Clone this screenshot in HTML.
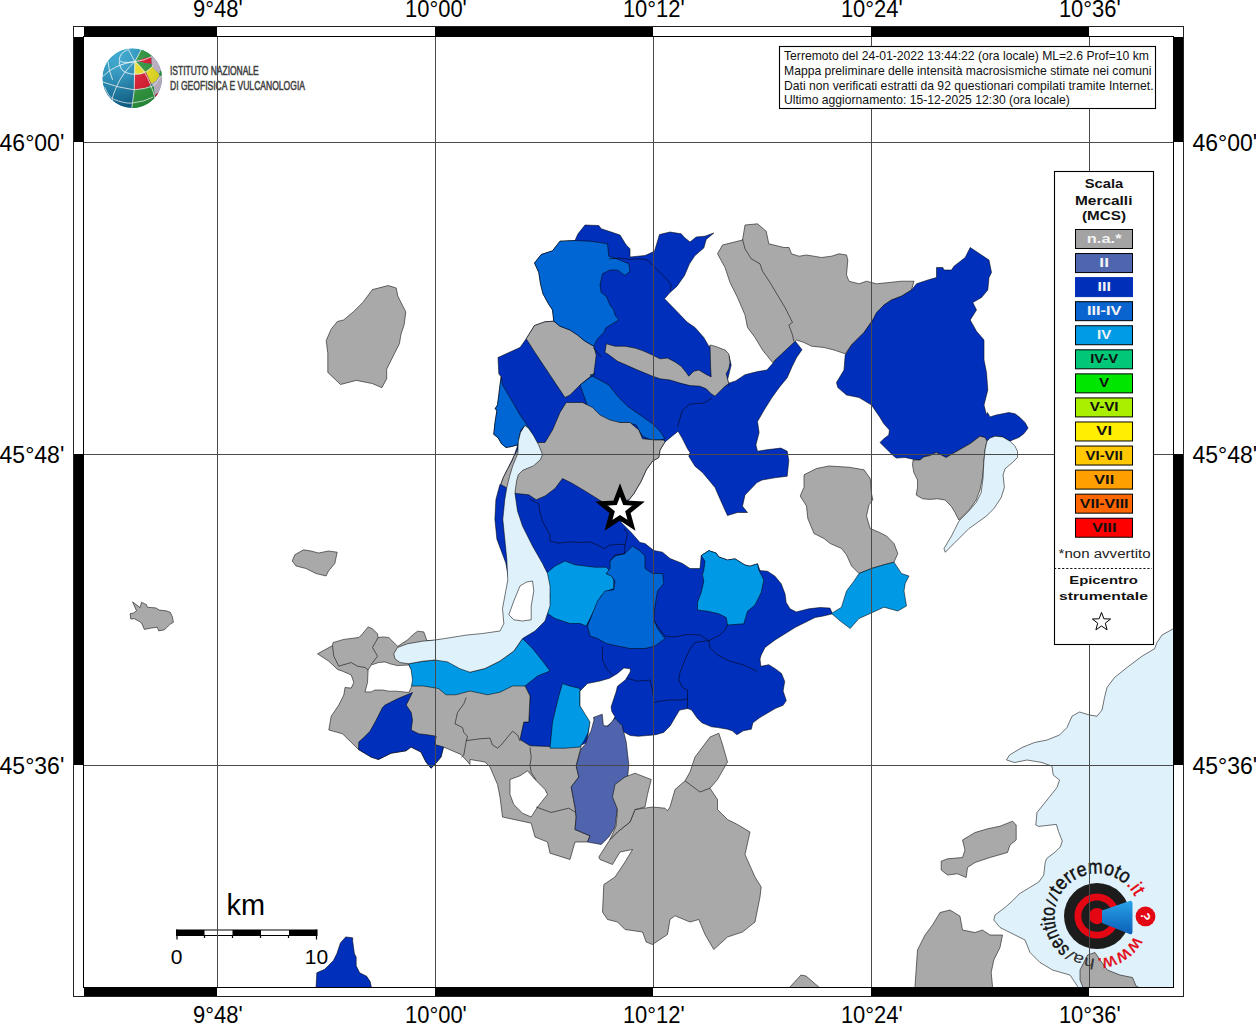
<!DOCTYPE html><html><head><meta charset="utf-8"><style>html,body{margin:0;padding:0;background:#fff;overflow:hidden}svg{display:block}</style></head><body>
<svg width="1256" height="1024" viewBox="0 0 1256 1024">
<rect width="1256" height="1024" fill="#fff"/>
<g clip-path="url(#mapclip)"><clipPath id="mapclip"><rect x="84" y="36" width="1089" height="951"/></clipPath>
<g stroke="#000" stroke-opacity="0.6" stroke-width="0.9" stroke-linejoin="round">
<polygon fill="#0030BB" points="493.8,433.8 495.0,422.5 497.0,410.0 495.0,408.8 497.5,405.0 498.8,395.0 500.0,385.0 501.2,377.0 498.8,373.8 498.0,357.5 510.0,352.0 520.0,347.5 526.2,338.8 534.5,325.5 545.0,321.8 553.8,321.2 552.5,310.0 548.0,303.0 543.0,293.8 540.5,283.8 538.8,272.5 534.5,263.0 541.2,254.5 552.5,250.8 560.0,241.2 575.0,240.5 578.0,233.8 585.0,225.0 598.8,225.5 601.2,228.8 611.2,232.0 620.0,235.0 626.2,245.0 630.0,248.8 630.0,257.0 645.0,255.5 654.5,251.2 659.5,234.5 670.0,232.0 681.2,233.8 684.5,237.5 690.0,242.0 696.2,237.0 705.0,236.2 713.8,233.0 706.2,239.5 703.8,248.0 695.0,255.5 689.5,263.8 684.5,275.5 677.0,286.2 670.0,292.5 664.5,298.8 675.0,309.5 687.0,322.0 695.0,327.5 703.8,337.5 708.8,346.2 721.2,350.0 728.8,355.0 731.2,365.0 727.5,380.0 728.8,385.0 726.2,384.1 735.6,380.9 745.0,374.7 757.5,371.6 766.9,370.0 773.1,363.0 777.8,355.9 785.6,348.1 793.4,338.8 802.0,349.7 796.6,357.5 791.9,366.9 787.2,377.8 779.4,387.2 771.6,398.1 763.8,410.6 757.5,421.6 759.1,432.5 755.9,445.0 757.5,451.2 766.9,449.7 780.9,448.1 787.2,451.2 788.8,460.6 787.2,476.2 774.7,477.8 762.2,480.0 757.0,482.5 745.0,495.0 742.5,506.2 747.5,512.5 737.5,512.5 727.5,515.6 723.8,507.5 718.8,496.2 715.0,487.5 708.8,480.0 702.5,472.5 695.0,466.2 688.8,456.2 690.0,452.5 687.5,448.8 682.5,438.8 678.1,431.2 665.0,441.9 660.0,450.0 658.8,457.5 652.5,461.2 646.2,470.0 641.2,481.2 633.8,493.8 628.8,500.0 621.2,522.5 631.2,532.5 640.0,542.5 645.0,543.5 653.8,550.5 662.5,552.2 670.0,558.5 682.5,563.5 690.0,568.5 700.0,568.5 701.2,555.6 708.8,550.6 716.2,553.1 718.8,556.9 727.5,560.0 735.0,558.8 745.0,565.0 750.0,566.2 757.5,563.8 760.0,570.6 767.5,571.2 775.0,576.2 781.2,583.8 785.0,593.8 786.2,602.5 790.0,608.8 796.2,611.9 808.8,608.8 820.0,607.5 830.0,608.1 832.5,613.8 822.5,616.2 815.0,617.5 805.0,622.5 795.0,627.5 785.0,633.8 775.0,640.0 765.0,647.5 761.2,655.0 760.0,659.1 760.8,666.3 768.8,664.7 775.2,668.7 781.5,673.4 784.7,681.4 783.1,691.0 786.3,700.5 783.1,705.3 775.2,708.5 767.2,713.2 759.2,718.0 752.9,722.8 751.3,729.2 743.3,730.8 736.9,734.7 732.2,730.8 727.4,729.2 717.8,727.6 711.5,726.8 701.9,722.8 697.1,718.0 691.6,710.1 687.6,708.5 679.6,710.1 674.8,718.0 670.1,726.0 663.7,732.4 655.7,734.7 647.8,735.5 638.2,736.3 630.3,735.5 624.7,732.4 617.5,727.0 580.0,745.8 565.0,748.2 550.0,748.2 535.0,747.0 522.5,743.2 518.8,739.5 523.8,722.0 528.8,722.0 530.0,696.0 525.0,686.0 520.0,641.0 505.8,563.1 496.9,539.2 494.9,519.3 495.9,499.4 499.9,484.5 500.8,484.4 503.4,477.3 507.8,468.6 513.9,456.2 517.9,444.8 511.3,446.6 506.0,447.5 501.6,443.9 498.1,437.8 493.7,434.3"/>
<polygon fill="#A9A9A9" points="526.2,338.8 534.5,325.5 545.0,321.8 553.8,321.2 560.0,326.2 570.0,330.0 577.5,335.0 585.0,341.2 593.8,346.2 596.2,355.0 595.0,365.0 593.8,373.8 580.0,385.0 570.0,395.0 565.0,397.5 555.0,382.5 545.0,367.5 535.0,352.5"/>
<polygon fill="#0066D4" points="534.5,263.0 541.2,254.5 552.5,250.8 560.0,241.2 575.0,240.5 590.0,241.2 600.0,242.5 607.5,243.8 608.8,256.2 620.0,260.0 628.8,263.8 630.0,271.2 625.0,275.5 617.5,270.0 610.0,270.0 602.5,273.8 600.0,285.0 601.2,292.5 606.2,296.2 610.0,305.0 613.8,310.0 615.0,315.0 618.8,320.0 612.5,323.8 606.2,327.5 603.8,332.5 597.5,338.8 593.8,346.2 585.0,341.2 577.5,335.0 570.0,330.0 560.0,326.2 553.8,321.2 552.5,310.0 548.0,303.0 543.0,293.8 540.5,283.8 538.8,272.5"/>
<polygon fill="#A9A9A9" points="606.2,343.8 615.0,346.2 625.0,346.2 635.0,348.1 642.5,350.6 652.5,355.0 660.0,358.8 667.5,358.1 675.0,361.9 681.2,366.2 686.2,372.5 688.8,376.2 693.8,371.2 698.8,370.0 706.2,374.4 711.2,376.9 710.6,367.5 710.0,345.0 715.0,346.2 725.0,350.0 728.8,353.8 730.0,362.5 728.8,368.8 726.2,373.8 728.8,383.8 725.0,386.2 715.0,396.2 711.2,393.8 706.2,388.8 700.0,386.2 690.0,385.6 680.0,383.1 670.0,380.0 660.0,378.8 652.5,376.2 645.0,373.1 637.5,370.0 627.5,365.6 617.5,361.2 607.5,353.8 605.0,352.5"/>
<polygon fill="#0066D4" points="590.0,375.0 597.5,378.8 608.8,385.0 618.8,397.5 627.5,406.2 640.0,415.0 652.5,423.8 660.0,431.2 665.0,438.8 660.0,440.0 651.2,440.0 642.5,436.2 638.8,430.0 636.2,425.0 627.5,422.5 615.0,423.1 608.8,422.5 600.0,417.5 596.2,413.8 590.0,412.5 580.0,385.0 590.0,377.5 595.0,373.8"/>
<polygon fill="#A9A9A9" points="537.5,442.5 545.0,442.5 552.5,430.0 560.0,412.5 566.2,402.5 575.0,402.5 582.5,402.5 592.5,407.5 600.0,415.0 610.0,420.0 620.0,422.5 630.0,422.5 638.8,430.0 642.5,438.8 655.0,440.0 663.8,440.0 665.0,441.9 660.0,450.0 658.8,457.5 652.5,461.2 646.2,470.0 641.2,481.2 633.8,493.8 628.8,500.0 618.8,501.2 611.2,511.0 605.0,503.5 595.0,497.2 585.0,491.0 572.5,483.5 562.5,478.5 555.0,488.5 545.0,496.0 536.2,499.8 528.8,494.8 516.2,493.5 500.8,484.4 503.4,477.3 507.8,468.6 512.2,460.6 513.9,456.2 517.5,450.1 518.3,441.3 520.5,432.5 524.9,425.5 531.5,433.4 537.7,443.9"/>
<polygon fill="#0066D4" points="501.2,377.0 502.5,385.0 510.0,397.5 520.0,415.0 528.8,427.5 531.5,433.4 528.0,428.1 524.9,425.5 521.0,429.9 519.2,436.9 517.9,444.8 511.3,446.6 506.0,447.5 501.6,443.9 498.1,437.8 493.7,434.3 493.8,433.8 495.0,422.5 497.0,410.0 495.0,408.8 497.5,405.0 498.8,395.0 500.0,385.0"/>
<polygon fill="#0099E6" points="546.2,573.5 555.0,566.0 565.0,561.0 575.0,564.8 585.0,566.0 595.0,567.2 606.2,567.2 610.0,571.0 606.2,573.5 612.5,576.0 613.8,581.0 613.8,588.5 607.5,591.0 601.2,596.0 595.0,608.5 590.0,618.5 586.2,626.0 580.0,623.5 570.0,623.5 555.0,618.5 547.5,613.5 550.0,596.0"/>
<polygon fill="#0066D4" points="587.5,626.0 592.5,613.5 597.5,601.0 605.0,591.0 613.8,589.8 615.0,581.0 611.2,576.0 606.2,573.5 610.0,568.5 610.0,561.0 615.0,556.0 625.0,553.5 632.5,546.0 640.0,551.0 645.0,556.0 645.0,568.5 652.5,573.5 662.5,573.5 663.8,583.5 657.5,591.0 655.0,606.0 653.8,618.5 657.5,628.5 665.0,638.5 655.0,646.0 645.0,648.5 630.0,648.5 617.5,646.0 606.2,643.5 597.5,638.5 590.0,636.0"/>
<polygon fill="#0099E6" points="701.2,555.6 708.8,550.6 716.2,553.1 718.8,556.9 727.5,560.0 735.0,558.8 745.0,565.0 750.0,566.2 757.5,563.8 758.8,570.0 763.8,580.0 761.2,592.5 755.0,605.0 747.5,611.2 743.8,623.8 727.5,625.0 726.2,617.5 718.8,613.8 707.5,611.2 697.5,610.0 697.5,602.5 701.2,592.5 703.8,581.2 702.5,575.0 703.8,570.0 705.0,561.2"/>
<polygon fill="#A9A9A9" points="317.5,653.8 332.5,645.6 333.1,642.5 343.8,639.4 358.8,637.5 362.5,633.8 368.1,626.9 372.5,628.8 377.5,633.8 378.1,637.5 382.5,636.9 388.8,637.5 397.5,646.2 400.0,645.0 402.5,643.1 407.5,640.0 412.5,635.0 417.5,631.2 423.8,631.9 426.9,640.6 495.0,638.5 520.0,641.0 525.0,686.0 530.0,696.0 528.8,722.0 523.8,722.0 520.0,739.5 530.0,745.8 550.0,746.5 581.2,746.5 576.2,765.8 578.8,777.0 571.2,787.0 575.0,807.0 576.2,817.0 575.0,829.5 590.0,835.8 587.5,842.0 575.0,842.0 570.0,859.5 550.0,853.2 547.5,842.0 535.0,837.0 531.2,823.2 502.5,817.0 500.0,797.0 497.5,784.5 490.0,767.0 485.0,762.0 470.0,759.5 470.0,764.5 461.0,754.5 443.5,747.0 441.0,757.0 434.8,764.5 431.0,768.2 426.0,762.0 421.0,752.0 411.0,747.0 406.0,750.8 391.0,753.2 378.5,759.5 371.0,757.0 358.5,749.5 342.5,733.8 328.8,730.0 331.2,716.2 338.8,705.0 343.8,695.0 345.0,687.5 351.2,688.1 353.8,682.5 351.2,675.0 342.5,671.2 337.5,669.4 328.8,661.2"/>
<polygon fill="#0099E6" points="408.5,663.5 426.0,661.0 438.5,659.8 456.0,663.5 470.0,672.2 485.0,668.5 500.0,661.0 513.8,651.0 522.5,638.5 532.5,648.5 542.5,661.0 550.0,671.0 537.5,676.0 525.0,686.0 512.5,686.0 500.0,692.2 487.5,694.8 470.0,691.0 456.0,694.8 446.0,694.8 438.5,688.5 423.5,686.0 411.0,686.0 409.8,681.0 411.0,671.0"/>
<polygon fill="#0099E6" points="558.8,696.0 562.5,683.5 570.0,686.0 580.0,688.5 580.0,706.0 590.0,718.5 590.5,722.0 588.0,733.0 584.0,741.0 580.0,747.0 565.0,748.2 550.0,748.2 552.5,722.0"/>
<polygon fill="#ffffff" points="580.0,691.0 587.5,683.5 600.0,681.0 609.6,678.2 617.5,673.4 623.9,667.9 630.3,668.7 630.3,671.8 625.5,679.8 617.5,686.2 615.9,692.5 612.7,702.1 611.1,706.9 611.9,711.7 614.9,716.6 612.5,722.2 607.0,726.2 600.0,760.0 585.0,750.0 588.0,735.0 590.0,722.0 580.0,706.0"/>
<polygon fill="#4F64AD" points="593.4,717.4 602.2,714.2 603.4,725.4 607.8,726.2 614.9,718.2 622.1,725.4 626.2,742.0 628.8,764.5 627.5,779.5 617.5,789.5 613.8,797.0 617.5,807.0 615.0,827.0 608.8,837.0 601.2,844.5 587.5,842.0 590.0,835.8 575.0,829.5 576.2,817.0 575.0,807.0 571.2,787.0 578.8,777.0 576.2,765.8 581.0,749.0 585.5,744.0 587.5,738.0 591.0,731.0 594.0,720.0"/>
<polygon fill="#A9A9A9" points="598.8,857.0 610.0,839.5 617.5,832.0 630.0,822.0 635.0,809.5 652.5,807.0 665.0,808.2 667.5,810.8 670.0,807.0 675.0,789.5 685.0,780.8 690.0,772.0 695.0,757.0 710.0,737.0 718.8,733.2 722.5,744.5 727.5,762.0 717.5,779.5 710.0,788.2 717.5,799.5 717.5,809.5 727.5,819.5 737.5,824.5 750.0,832.0 745.0,854.5 755.0,877.0 761.2,887.0 760.0,897.0 755.0,922.0 742.5,932.0 727.5,937.0 713.8,949.5 705.0,934.5 698.8,919.5 690.0,922.0 675.0,915.8 670.0,919.5 667.5,934.5 652.5,944.5 646.2,942.0 642.5,932.0 625.0,929.5 617.5,922.0 607.5,919.5 602.5,912.0 603.8,884.5 615.0,877.0 625.0,862.0 632.5,849.5 620.0,852.0 612.5,864.5 600.0,859.5"/>
<polygon fill="#A9A9A9" points="612.5,797.0 615.0,784.5 625.0,777.0 635.0,773.2 651.2,779.5 647.5,794.5 645.0,807.0 635.0,809.5 630.0,822.0 617.5,832.0 610.0,839.5 616.2,825.8 617.5,809.5"/>
<polygon fill="#ffffff" points="368.1,670.0 371.2,665.0 378.8,662.5 385.0,661.9 390.0,663.8 397.5,665.6 408.8,665.0 411.2,670.0 412.5,680.0 411.2,687.5 408.8,692.5 403.8,691.9 396.2,691.2 388.8,691.2 382.5,690.0 375.0,690.0 371.2,691.9 365.0,691.9 367.5,682.5"/>
<polygon fill="#ffffff" points="510.0,779.5 520.0,775.8 527.5,770.8 535.0,779.5 545.0,789.5 547.5,794.5 537.5,807.0 531.2,817.0 522.5,813.2 513.8,804.5 510.0,794.5"/>
<polygon fill="#0030BB" points="358.8,741.9 363.8,737.5 370.0,731.2 376.2,720.0 382.5,707.5 385.0,705.0 397.5,698.8 412.5,692.5 408.8,700.0 406.2,705.0 411.2,712.5 412.5,720.0 411.2,730.0 418.8,733.8 428.8,735.0 436.2,736.2 434.8,744.5 443.5,747.0 441.0,757.0 434.8,764.5 431.0,768.2 426.0,762.0 421.0,752.0 411.0,747.0 406.0,750.8 391.0,753.2 378.5,759.5 371.0,757.0 358.5,749.5"/>
<polygon fill="#0030BB" points="315.9,990.0 316.8,972.8 324.7,969.3 328.2,965.8 333.4,960.6 336.9,953.6 340.4,943.0 345.7,936.9 352.7,937.8 352.7,941.3 354.4,953.6 356.2,957.1 356.2,965.8 359.7,972.8 366.7,976.3 370.2,981.6 372.0,990.0"/>
<polygon fill="#DFF1FB" points="524.9,425.5 528.4,428.1 533.3,435.2 538.6,444.8 542.5,454.5 540.3,459.8 533.3,465.9 522.7,470.3 518.3,474.7 516.6,480.9 515.3,490.0 515.0,493.5 517.5,511.0 522.5,526.0 532.5,546.0 542.5,563.5 547.5,573.5 550.0,586.0 550.0,606.0 545.0,621.0 535.0,631.0 522.5,638.5 513.8,651.0 500.0,661.0 485.0,668.5 470.0,672.2 467.0,671.2 460.0,668.8 447.5,661.9 435.0,660.0 422.5,661.2 408.8,663.8 400.0,662.5 395.0,658.8 393.8,653.8 397.5,647.5 407.5,643.8 422.5,641.2 435.0,640.0 447.5,638.1 467.0,635.0 482.5,633.5 500.0,631.0 503.8,623.5 502.5,608.5 507.8,580.0 506.8,559.1 504.8,539.2 502.8,519.3 504.8,499.4 506.8,487.5 509.8,475.5 512.8,465.6 517.8,453.6 518.3,441.3 520.5,432.5"/>
<polygon fill="#ffffff" points="508.8,614.8 513.8,601.0 520.0,586.0 526.2,582.2 532.5,581.0 533.8,591.0 531.2,606.0 531.2,619.8 522.5,621.0 513.8,619.8"/>
<polygon fill="#A9A9A9" points="717.5,253.8 722.5,245.0 742.5,240.0 745.0,225.0 757.5,223.8 766.2,231.2 768.8,243.8 784.0,247.5 789.0,247.5 791.5,253.8 799.0,256.2 806.5,255.0 814.0,256.2 821.5,257.5 831.5,256.2 839.0,253.8 846.5,255.0 847.8,260.0 846.5,275.0 849.0,281.2 859.0,283.8 866.5,281.2 876.5,283.8 889.0,282.5 901.5,281.2 914.0,281.2 911.5,290.0 901.5,296.2 891.5,300.0 884.0,305.0 872.8,320.0 864.0,332.5 851.5,345.0 845.2,353.8 834.0,350.0 824.0,347.5 811.5,346.2 804.0,342.5 796.5,340.0 772.5,362.5 762.5,350.0 755.0,337.5 747.5,327.5 745.0,315.0 737.5,297.5 730.0,282.5 725.0,267.5"/>
<polygon fill="#0030BB" points="876.5,312.5 884.0,305.0 891.5,300.0 901.5,296.2 911.5,290.0 916.5,283.8 927.8,280.0 936.5,277.5 936.5,267.5 942.8,267.5 944.0,270.0 951.5,270.0 954.0,266.2 965.2,257.5 970.2,247.5 981.5,255.0 989.0,260.0 991.5,272.5 989.0,277.5 987.8,290.0 981.5,297.5 972.8,302.5 976.5,310.0 970.2,320.0 976.5,331.2 984.0,340.0 984.0,360.0 986.5,372.5 987.8,390.0 984.0,405.0 986.5,415.0 987.5,412.5 990.0,416.9 996.2,415.0 1002.5,413.8 1008.8,412.5 1015.0,413.8 1020.0,417.5 1025.0,422.5 1028.1,428.1 1023.8,433.8 1018.8,437.5 1012.5,440.0 1010.0,441.2 1002.5,436.9 995.0,436.2 990.0,438.8 987.5,441.2 985.0,437.5 980.0,436.2 975.0,440.0 970.0,443.8 961.2,448.8 952.5,453.8 946.2,457.5 940.0,454.4 936.2,452.5 930.0,455.6 923.8,456.9 920.0,460.0 913.8,459.4 905.0,457.5 896.2,458.1 892.5,455.0 880.0,442.5 883.8,438.8 888.8,435.0 889.4,430.0 883.8,423.8 880.0,417.5 871.5,405.0 859.0,397.5 846.5,395.0 837.8,387.5 836.5,382.5 844.0,370.0 845.2,355.0 851.5,345.0 864.0,332.5 872.8,320.0"/>
<polygon fill="#A9A9A9" points="913.1,460.0 920.0,460.0 923.8,456.9 930.0,455.6 936.2,452.5 940.0,454.4 946.2,457.5 952.5,453.8 961.2,448.8 970.0,443.8 975.0,440.0 980.0,436.2 985.0,437.5 986.9,441.2 985.0,450.0 983.8,462.5 982.5,477.5 980.0,490.0 976.2,500.0 970.0,508.8 962.5,516.2 958.8,520.0 955.0,512.5 951.2,506.2 945.0,500.0 937.5,498.8 930.0,499.4 922.5,498.8 916.2,495.0 917.5,487.5 917.5,480.0 913.8,472.5 912.5,465.0"/>
<polygon fill="#DFF1FB" points="986.9,441.2 990.0,438.1 995.0,436.2 1002.5,436.9 1010.0,441.2 1015.0,446.2 1017.5,451.2 1017.5,457.5 1012.5,462.5 1005.0,468.8 1003.1,475.0 1004.4,487.5 1001.2,497.5 993.8,508.8 986.2,516.2 977.5,522.5 969.0,528.5 964.0,533.5 954.0,543.5 945.2,552.2 944.0,548.5 951.5,536.0 959.0,521.0 967.5,512.5 976.2,502.5 981.2,492.5 983.1,477.5 983.8,462.5 985.0,450.0"/>
<polygon fill="#A9A9A9" points="804.0,474.8 816.5,468.5 829.0,466.0 849.0,467.2 864.0,469.8 870.2,478.5 871.5,493.5 872.8,499.8 869.0,504.8 866.5,516.0 870.2,528.5 879.0,532.2 886.5,536.0 894.0,543.5 897.8,553.5 894.0,562.2 884.0,564.8 871.5,568.5 859.0,573.5 851.5,566.0 846.5,554.8 841.5,548.5 830.2,543.5 824.0,538.5 814.0,533.5 807.8,518.5 806.5,506.0 800.2,496.0 804.0,487.2"/>
<polygon fill="#0099E6" points="859.0,573.5 871.5,568.5 884.0,564.8 894.0,562.2 901.5,573.5 909.0,576.0 905.2,583.5 904.0,591.0 906.5,606.0 897.8,611.0 884.0,607.2 870.2,613.5 859.0,618.5 850.2,628.5 840.2,621.0 831.5,613.5 841.5,607.2 846.5,591.0 854.0,581.0"/>
<polygon fill="#DFF1FB" points="1173.2,628.8 1162.0,635.0 1157.0,642.5 1154.5,648.8 1142.0,656.2 1127.0,667.5 1114.5,677.5 1107.0,687.5 1104.5,697.5 1102.0,710.0 1097.0,716.2 1089.5,715.0 1079.5,712.0 1072.0,716.2 1067.0,727.5 1059.5,735.0 1047.0,740.0 1034.5,742.5 1022.0,747.5 1009.5,755.0 1006.5,760.0 1014.5,762.5 1027.0,760.0 1042.0,762.5 1052.0,766.2 1053.2,775.0 1059.5,780.0 1057.0,787.5 1047.0,800.0 1037.0,812.5 1035.8,825.0 1038.8,826.4 1056.4,824.4 1058.4,831.3 1062.3,841.0 1060.3,846.9 1055.4,851.8 1046.6,858.6 1045.2,862.5 1043.7,875.2 1038.8,882.0 1029.1,887.9 1019.3,893.8 1013.4,900.0 1005.0,907.5 995.0,915.0 993.8,920.0 1000.0,927.5 1015.0,935.0 1025.0,940.0 1030.0,952.5 1040.0,962.5 1052.5,970.0 1070.0,975.0 1080.0,990.0 1200.0,990.0 1200.0,760.0 1182.0,600.0"/>
<polygon fill="#A9A9A9" points="941.2,861.2 947.5,858.8 962.5,857.5 965.0,850.0 962.5,840.0 975.0,832.5 987.5,828.8 1000.0,826.2 1012.5,821.2 1016.2,825.0 1016.2,840.0 1010.0,845.0 1007.5,852.5 990.0,857.5 975.0,862.5 967.5,867.5 966.2,877.5 957.5,873.8 947.5,875.0 941.2,870.0"/>
<polygon fill="#A9A9A9" points="915.0,992.5 915.0,986.2 917.5,950.0 925.0,935.0 932.5,925.0 940.0,912.5 950.0,910.0 960.0,916.2 962.5,930.0 975.0,932.5 982.5,930.0 990.0,935.0 1002.5,935.0 1000.0,947.5 993.8,960.0 991.2,972.5 992.5,986.2 992.5,992.5"/>
<polygon fill="#A9A9A9" points="1080.0,970.0 1087.5,955.0 1095.0,952.5 1100.0,960.0 1107.5,970.0 1120.0,975.0 1132.5,977.5 1136.2,986.2 1152.5,992.5 1085.0,992.5 1080.0,980.0"/>
<polygon fill="#A9A9A9" points="789.0,988.0 801.0,975.0 806.0,976.0 820.0,988.0"/>
<polygon fill="#A9A9A9" points="326.2,340.6 331.0,329.4 337.3,321.5 343.7,319.9 353.2,311.9 362.8,302.4 372.4,289.6 388.3,285.5 396.2,288.0 397.8,296.0 401.0,302.4 405.8,311.9 404.2,324.6 401.0,334.2 399.4,343.8 394.6,353.3 386.7,369.2 386.7,378.8 381.9,387.7 372.4,383.6 356.4,380.4 340.5,384.5 327.8,372.4 327.8,353.3"/>
<polygon fill="#A9A9A9" points="292.2,561.0 294.8,554.8 303.5,549.8 311.0,551.0 318.5,553.0 328.5,551.0 337.2,552.2 334.8,563.5 328.5,571.0 326.0,576.0 316.0,573.5 306.0,568.5 296.0,566.0"/>
<polygon fill="#A9A9A9" points="132.6,601.9 140.1,607.6 141.5,602.2 146.5,604.7 147.3,607.2 151.6,607.6 155.9,607.9 159.4,610.1 165.9,610.8 170.2,612.2 172.3,616.5 173.4,622.3 170.2,624.1 164.5,629.8 158.7,630.9 157.3,627.3 151.6,628.0 144.4,629.4 141.5,623.0 139.4,621.6 134.4,618.7 130.8,619.1 130.1,613.7 133.6,613.0 136.5,610.8"/>
<polyline fill="none" points="608.8,258.8 620.0,258.1 630.0,259.4 640.0,258.8 647.5,260.0 652.5,265.0 660.0,272.5 667.5,280.0 671.2,285.0 670.0,291.2"/>
<polyline fill="none" points="593.1,347.5 601.2,356.9"/>
<polyline fill="none" points="711.9,398.1 703.8,403.1 690.0,404.0 682.5,410.0 679.4,420.0 677.5,427.5"/>
<polyline fill="none" points="528.8,498.8 538.8,503.8 540.0,512.5 542.5,521.2 550.0,535.0 550.0,541.2 558.8,543.1 570.0,541.9 581.2,542.5 590.0,541.9 597.5,545.0 603.8,548.8 610.0,545.0 617.5,544.4 625.0,544.4"/>
<polyline fill="none" points="623.8,528.1 627.5,533.8 626.2,540.0 625.0,545.0 624.4,553.8 615.0,555.0 610.0,561.2"/>
<polyline fill="none" points="653.8,621.2 665.0,636.2 675.0,636.9 687.5,634.4 700.0,635.0 708.8,640.6 720.0,635.0 725.0,630.0 727.5,625.0"/>
<polyline fill="none" points="708.8,640.6 695.0,642.5 690.0,648.8 685.0,660.0 680.0,672.5 678.8,680.0 682.5,687.5 687.5,690.0 687.5,698.8 681.2,700.0 670.0,700.0 660.0,701.2 653.8,702.5"/>
<polyline fill="none" points="708.8,640.6 710.0,647.5 717.5,655.0 730.0,661.2 743.8,665.0 757.0,671.2"/>
<polyline fill="none" points="602.5,646.2 602.5,660.0 607.5,670.0 613.1,675.6"/>
<polyline fill="none" points="626.9,678.1 637.5,681.2 650.0,680.0 652.5,690.0 653.8,700.0"/>
<polyline fill="none" points="687.5,698.8 687.5,708.8"/>
<polyline fill="none" points="742.5,239.4 745.0,248.8 751.2,258.8 760.0,263.8 762.5,271.2 770.0,282.5 777.5,295.0 785.0,307.5 792.5,322.5 788.8,325.0 792.5,335.0 793.8,341.2"/>
<polyline fill="none" points="332.5,645.6 333.8,656.2 338.8,666.2 351.2,662.5 357.5,666.2 365.0,667.5 368.1,670.0"/>
<polyline fill="none" points="378.1,637.5 372.5,647.5 377.5,656.2 371.2,664.4"/>
<polyline fill="none" points="536.2,807.0 551.2,812.5 568.8,808.2 575.0,812.0"/>
<polyline fill="none" points="685.0,780.8 700.0,792.0 710.0,788.2"/>
<polyline fill="none" points="466.2,697.5 463.8,703.8 457.5,712.5 455.0,723.8 462.5,727.5 463.8,732.5 467.5,736.2 466.2,741.2 463.8,755.0 461.2,757.5"/>
<polyline fill="none" points="466.2,740.6 480.0,738.8 490.0,738.1 492.5,745.0 497.5,748.1 501.2,745.0 506.2,738.8 512.5,731.2 517.5,735.0 520.0,741.2"/>
<polyline fill="none" points="530.0,747.5 531.2,757.5 530.0,765.0 531.2,772.5 536.2,780.0"/>
</g>
<polygon points="620.0,490.0 624.9,502.8 638.5,503.5 627.9,512.1 631.5,525.3 620.0,517.8 608.5,525.3 612.1,512.1 601.5,503.5 615.1,502.8" fill="#fff" stroke="#000" stroke-width="4.8" stroke-linejoin="miter" stroke-miterlimit="10"/>

<!-- sentito logo -->
<g>
<defs><path id="arcT" d="M1135.20,934.73 A42.5,42.5 0 1 1 1139.27,920.54"/></defs>
<circle cx="1097" cy="916.1" r="33" fill="#1c1c1c"/>
<circle cx="1097" cy="916.1" r="19.1" fill="none" stroke="#e30613" stroke-width="6.8"/>
<circle cx="1097" cy="916.1" r="8.1" fill="#e30613"/>
<path d="M1102,910.5 L1129.5,901 Q1132.5,900 1132.5,903.5 L1132.5,931.5 Q1132.5,935 1129.5,934 L1102,923 Z" fill="url(#tri)"/>
<circle cx="1145.5" cy="916.4" r="9.9" fill="#e30613"/>
<text x="1145.5" y="921" font-family="Liberation Sans, sans-serif" font-weight="bold" font-size="13" fill="#fff" text-anchor="middle" transform="rotate(90 1145.5 916.4)">?</text>
<text font-family="Liberation Sans, sans-serif" font-size="18" fill="#e30613" stroke="#e30613" stroke-width="0.35"><textPath href="#arcT" startOffset="1.5" textLength="46.0" lengthAdjust="spacingAndGlyphs">www.</textPath></text>
<text font-family="Liberation Sans, sans-serif" font-size="15" fill="#333" stroke="#333" stroke-width="0.1"><textPath href="#arcT" startOffset="49.0" textLength="26.7" lengthAdjust="spacingAndGlyphs">ha/</textPath></text>
<text font-family="Liberation Sans, sans-serif" font-size="20" fill="#111" stroke="#111" stroke-width="0.45"><textPath href="#arcT" startOffset="76.4" textLength="46.0" lengthAdjust="spacingAndGlyphs">sentito</textPath></text>
<text font-family="Liberation Sans, sans-serif" font-size="15" fill="#111" stroke="#111" stroke-width="0.15"><textPath href="#arcT" startOffset="123.1" textLength="11.1" lengthAdjust="spacingAndGlyphs">//</textPath></text>
<text font-family="Liberation Sans, sans-serif" font-size="20" fill="#111" stroke="#111" stroke-width="0.45"><textPath href="#arcT" startOffset="135.0" textLength="76.4" lengthAdjust="spacingAndGlyphs">terremoto</textPath></text>
<text font-family="Liberation Sans, sans-serif" font-size="19" fill="#e30613" stroke="#e30613" stroke-width="0.35"><textPath href="#arcT" startOffset="212.1" textLength="14.8" lengthAdjust="spacingAndGlyphs">.it</textPath></text>
</g>

</g>
<!-- INGV logo -->
<defs>
<linearGradient id="gb" x1="0.15" y1="0.1" x2="0.6" y2="1">
<stop offset="0" stop-color="#2eaad6"/><stop offset="0.5" stop-color="#1582b0"/><stop offset="1" stop-color="#0a5a84"/>
</linearGradient>
<radialGradient id="gshade" cx="0.35" cy="0.3" r="0.8"><stop offset="0" stop-color="#fff" stop-opacity="0.15"/><stop offset="1" stop-color="#000" stop-opacity="0.15"/></radialGradient>
<clipPath id="gclip"><circle cx="132.2" cy="78.2" r="29.9"/></clipPath>
<linearGradient id="tri" x1="0" y1="0" x2="0" y2="1"><stop offset="0" stop-color="#29a3e8"/><stop offset="1" stop-color="#0a5fb8"/></linearGradient>
</defs>
<g clip-path="url(#gclip)">
<circle cx="132.2" cy="78.2" r="30" fill="url(#gb)"/>
<g transform="translate(98 44) scale(0.0664)">
<path d="M555,265 L655,70 L790,120 L840,200 L700,210 L590,255Z" fill="#2a9a3c"/>
<path d="M590,255 L700,210 L805,195 L810,300 L720,290 L640,270Z" fill="#e3142b"/>
<path d="M800,150 L900,220 L980,340 L990,440 L910,440 L810,340 L810,300 L805,195Z" fill="#cbbfd3"/>
<path d="M575,275 L640,270 L720,290 L810,300 L810,340 L720,420 L660,360Z" fill="#2a9a3c"/>
<path d="M555,265 L575,275 L660,360 L720,420 L700,440 L620,460 L550,460Z" fill="#f1e61f"/>
<path d="M720,420 L810,340 L910,440 L930,480 L870,560 L800,600Z" fill="#f1e61f"/>
<path d="M550,460 L620,460 L700,440 L720,420 L800,600 L790,620 L700,670 L545,690Z" fill="#e3142b"/>
<path d="M800,600 L870,560 L930,480 L990,480 L990,650 L920,720 L850,780 L840,640Z" fill="#cbbfd3"/>
<path d="M545,690 L700,670 L790,620 L840,640 L850,780 L900,820 L800,900 L650,980 L505,990Z" fill="#2a9a3c"/>
<path d="M850,780 L920,720 L890,810Z" fill="#e3142b"/>
<path d="M930,400 L990,420 L990,500 L935,480Z" fill="#2a9a3c"/>
<g fill="none" stroke="#fff" stroke-width="13" opacity="0.95">
<path d="M450,70 L555,265 L545,700 L505,990"/>
<path d="M655,80 L555,265"/>
<path d="M555,265 Q700,370 790,610 T850,820"/>
<path d="M555,265 Q380,420 290,620 T215,860"/>
<path d="M60,500 Q250,300 555,265 Q700,250 810,190"/>
<path d="M65,570 Q300,660 545,690 Q700,680 840,630 L960,470"/>
<path d="M100,650 Q160,800 230,830 Q400,900 510,890 Q700,870 830,800"/>
<path d="M555,265 Q330,300 320,240 Q330,130 450,85"/>
<path d="M320,260 Q330,400 420,430 Q500,460 548,455 Q650,460 720,420 Q800,370 830,330"/>
<path d="M150,260 Q160,400 220,540"/>
</g>
</g>
<circle cx="132.2" cy="78.2" r="30" fill="url(#gshade)"/>
</g>
<g font-family="Liberation Sans, sans-serif" font-size="13.3" fill="#404040" stroke="#404040" stroke-width="0.55">
<text x="170" y="75.3" transform="translate(170 0) scale(0.637 1) translate(-170 0)">ISTITUTO NAZIONALE</text>
<text x="170" y="89.6" transform="translate(170 0) scale(0.644 1) translate(-170 0)">DI GEOFISICA E VULCANOLOGIA</text>
</g>
<!-- scale bar -->
<g>
<rect x="176.5" y="930" width="140.5" height="5.5" fill="#fff" stroke="#000" stroke-width="1"/>
<rect x="176.5" y="930" width="28" height="5.5" fill="#000"/>
<rect x="232.5" y="930" width="28.5" height="5.5" fill="#000"/>
<rect x="289" y="930" width="28" height="5.5" fill="#000"/>
<g stroke="#000" stroke-width="1.2">
<line x1="177" y1="929.5" x2="177" y2="939.5"/>
<line x1="204.5" y1="935" x2="204.5" y2="938"/>
<line x1="232.5" y1="935" x2="232.5" y2="938"/>
<line x1="260.5" y1="935" x2="260.5" y2="938"/>
<line x1="288.5" y1="935" x2="288.5" y2="938"/>
<line x1="316.5" y1="929.5" x2="316.5" y2="939.5"/>
</g>
<text x="226.5" y="915" font-family="Liberation Sans, sans-serif" font-size="28.9" fill="#000">km</text>
<text x="176.7" y="963.5" font-family="Liberation Sans, sans-serif" font-size="21" fill="#000" text-anchor="middle">0</text>
<text x="316.5" y="963.5" font-family="Liberation Sans, sans-serif" font-size="21" fill="#000" text-anchor="middle">10</text>
</g>

<!-- grid -->
<g stroke="#4a4a4a" stroke-width="1" fill="none" shape-rendering="crispEdges">
<line x1="217.5" y1="37" x2="217.5" y2="987"/>
<line x1="435.5" y1="37" x2="435.5" y2="987"/>
<line x1="653.5" y1="37" x2="653.5" y2="987"/>
<line x1="871.5" y1="37" x2="871.5" y2="987"/>
<line x1="1089.5" y1="37" x2="1089.5" y2="987"/>
<line x1="84" y1="142.5" x2="1173" y2="142.5"/>
<line x1="84" y1="454.5" x2="1173" y2="454.5"/>
<line x1="84" y1="765.5" x2="1173" y2="765.5"/>
</g>

<!-- frame -->
<g shape-rendering="crispEdges">
<g fill="#000">
<rect x="84" y="26" width="133" height="11"/>
<rect x="84" y="987" width="133" height="10"/>
<rect x="435" y="26" width="218" height="11"/>
<rect x="435" y="987" width="218" height="10"/>
<rect x="871" y="26" width="218" height="11"/>
<rect x="871" y="987" width="218" height="10"/>
<rect x="73" y="37" width="11" height="105"/>
<rect x="1173" y="37" width="11" height="105"/>
<rect x="73" y="454" width="11" height="311"/>
<rect x="1173" y="454" width="11" height="311"/>
</g>
<rect x="73.5" y="26.5" width="1110" height="970" fill="none" stroke="#222" stroke-width="1.4"/>
<rect x="83.5" y="36.5" width="1090" height="951" fill="none" stroke="#000" stroke-width="1"/>
</g>
<g font-family="Liberation Sans, sans-serif" font-size="23" fill="#000" text-anchor="middle">
<text x="217.8" y="16.8" transform="translate(217.8 0) scale(0.955 1) translate(-217.8 0)">9°48'</text>
<text x="217.8" y="1023.3" transform="translate(217.8 0) scale(0.955 1) translate(-217.8 0)">9°48'</text>
<text x="435.9" y="16.8" transform="translate(435.9 0) scale(0.955 1) translate(-435.9 0)">10°00'</text>
<text x="435.9" y="1023.3" transform="translate(435.9 0) scale(0.955 1) translate(-435.9 0)">10°00'</text>
<text x="653.8" y="16.8" transform="translate(653.8 0) scale(0.955 1) translate(-653.8 0)">10°12'</text>
<text x="653.8" y="1023.3" transform="translate(653.8 0) scale(0.955 1) translate(-653.8 0)">10°12'</text>
<text x="871.8" y="16.8" transform="translate(871.8 0) scale(0.955 1) translate(-871.8 0)">10°24'</text>
<text x="871.8" y="1023.3" transform="translate(871.8 0) scale(0.955 1) translate(-871.8 0)">10°24'</text>
<text x="1089.8" y="16.8" transform="translate(1089.8 0) scale(0.955 1) translate(-1089.8 0)">10°36'</text>
<text x="1089.8" y="1023.3" transform="translate(1089.8 0) scale(0.955 1) translate(-1089.8 0)">10°36'</text>
</g>
<g font-family="Liberation Sans, sans-serif" font-size="23" fill="#000">
<text x="64.3" y="150.65" text-anchor="end">46°00'</text>
<text x="1192.5" y="150.65">46°00'</text>
<text x="64.3" y="462.65" text-anchor="end">45°48'</text>
<text x="1192.5" y="462.65">45°48'</text>
<text x="64.3" y="773.65" text-anchor="end">45°36'</text>
<text x="1192.5" y="773.65">45°36'</text>
</g>

<!-- info box -->
<rect x="779.5" y="46.5" width="376" height="62" fill="#fff" stroke="#000" stroke-width="1.1"/>
<g font-family="Liberation Sans, sans-serif" font-size="12.17" fill="#111">
<text x="784" y="59.8">Terremoto del 24-01-2022 13:44:22 (ora locale) ML=2.6 Prof=10 km</text>
<text x="784" y="74.6">Mappa preliminare delle intensità macrosismiche stimate nei comuni</text>
<text x="784" y="89.6">Dati non verificati estratti da 92 questionari compilati tramite Internet.</text>
<text x="784" y="104.4">Ultimo aggiornamento: 15-12-2025 12:30 (ora locale)</text>
</g>
<!-- legend -->
<rect x="1054.5" y="171.5" width="99" height="473" fill="#fff" stroke="#000" stroke-width="1.1"/>
<g font-family="Liberation Sans, sans-serif" font-weight="bold" font-size="12" fill="#111" text-anchor="middle" lengthAdjust="spacingAndGlyphs">
<text x="1104" y="188" textLength="38.5" lengthAdjust="spacingAndGlyphs">Scala</text>
<text x="1103.7" y="204.5" textLength="57.5" lengthAdjust="spacingAndGlyphs">Mercalli</text>
<text x="1104" y="220.1" textLength="44" lengthAdjust="spacingAndGlyphs">(MCS)</text>
</g>
<g stroke="#000" stroke-width="1">
<rect x="1075.5" y="229.50" width="57" height="19" fill="#A3A3A3" stroke="#000"/>
<rect x="1075.5" y="253.56" width="57" height="19" fill="#4F66AF" stroke="#000"/>
<rect x="1075.5" y="277.62" width="57" height="19" fill="#0030B9" stroke="#0030B9"/>
<rect x="1075.5" y="301.68" width="57" height="19" fill="#0A64D0" stroke="#000"/>
<rect x="1075.5" y="325.74" width="57" height="19" fill="#009BE6" stroke="#000"/>
<rect x="1075.5" y="349.80" width="57" height="19" fill="#00C878" stroke="#000"/>
<rect x="1075.5" y="373.86" width="57" height="19" fill="#00E600" stroke="#000"/>
<rect x="1075.5" y="397.92" width="57" height="19" fill="#AAEE00" stroke="#000"/>
<rect x="1075.5" y="421.98" width="57" height="19" fill="#FFEE00" stroke="#000"/>
<rect x="1075.5" y="446.04" width="57" height="19" fill="#FFC800" stroke="#000"/>
<rect x="1075.5" y="470.10" width="57" height="19" fill="#FFA000" stroke="#000"/>
<rect x="1075.5" y="494.16" width="57" height="19" fill="#FF6600" stroke="#000"/>
<rect x="1075.5" y="518.22" width="57" height="19" fill="#FF0000" stroke="#000"/>
</g>
<g font-family="Liberation Sans, sans-serif" font-weight="bold" font-size="12" text-anchor="middle">
<text x="1104.2" y="243.00" fill="#f2f2f2" textLength="34.8" lengthAdjust="spacingAndGlyphs">n.a.*</text>
<text x="1104.2" y="267.06" fill="#f2f2f2" textLength="9.7" lengthAdjust="spacingAndGlyphs">II</text>
<text x="1104.2" y="291.12" fill="#f2f2f2" textLength="13.5" lengthAdjust="spacingAndGlyphs">III</text>
<text x="1104.2" y="315.18" fill="#f2f2f2" textLength="34.6" lengthAdjust="spacingAndGlyphs">III-IV</text>
<text x="1104.2" y="339.24" fill="#f2f2f2" textLength="14.2" lengthAdjust="spacingAndGlyphs">IV</text>
<text x="1104.2" y="363.30" fill="#111" textLength="28.1" lengthAdjust="spacingAndGlyphs">IV-V</text>
<text x="1104.2" y="387.36" fill="#111" textLength="10.2" lengthAdjust="spacingAndGlyphs">V</text>
<text x="1104.2" y="411.42" fill="#111" textLength="28.7" lengthAdjust="spacingAndGlyphs">V-VI</text>
<text x="1104.2" y="435.48" fill="#111" textLength="15.7" lengthAdjust="spacingAndGlyphs">VI</text>
<text x="1104.2" y="459.54" fill="#111" textLength="37.2" lengthAdjust="spacingAndGlyphs">VI-VII</text>
<text x="1104.2" y="483.60" fill="#111" textLength="20.2" lengthAdjust="spacingAndGlyphs">VII</text>
<text x="1104.2" y="507.66" fill="#111" textLength="48.7" lengthAdjust="spacingAndGlyphs">VII-VIII</text>
<text x="1104.2" y="531.72" fill="#111" textLength="24.6" lengthAdjust="spacingAndGlyphs">VIII</text>
</g>
<text x="1104.6" y="557.9" font-family="Liberation Sans, sans-serif" font-size="12.5" fill="#222" text-anchor="middle" textLength="92" lengthAdjust="spacingAndGlyphs">*non avvertito</text>
<line x1="1054" y1="568.5" x2="1152" y2="568.5" stroke="#111" stroke-width="1" stroke-dasharray="2.2,1.86"/>
<g font-family="Liberation Sans, sans-serif" font-weight="bold" font-size="11.6" fill="#111" text-anchor="middle">
<text x="1103.5" y="583.8" textLength="68.5" lengthAdjust="spacingAndGlyphs">Epicentro</text>
<text x="1103.5" y="599.7" textLength="88.8" lengthAdjust="spacingAndGlyphs">strumentale</text>
</g>
<polygon points="1101.5,612.4 1103.9,618.8 1110.6,619.0 1105.3,623.2 1107.1,629.8 1101.5,626.0 1095.9,629.8 1097.7,623.2 1092.4,619.0 1099.1,618.8" fill="#fff" stroke="#000" stroke-width="1"/>

</svg></body></html>
